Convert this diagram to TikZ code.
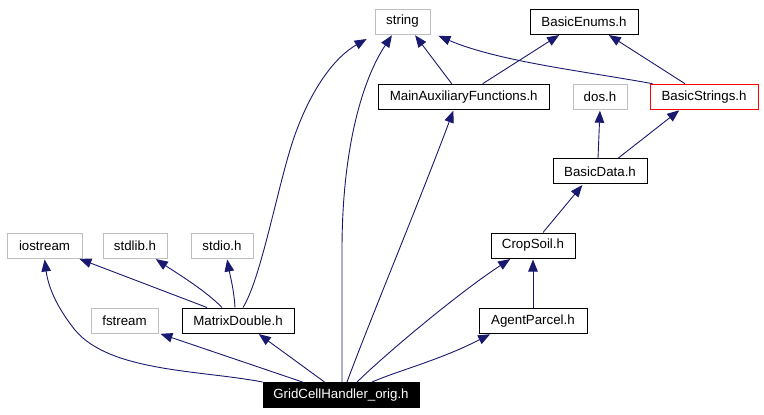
\documentclass[tikz,border=0pt]{standalone}
\usepackage{fontspec}
\setmainfont{Liberation Sans}
\usetikzlibrary{arrows.meta,calc}
\definecolor{edgeblue}{HTML}{191970}
\definecolor{sysgrey}{HTML}{BFBFBF}
\begin{document}
\begin{tikzpicture}[x=1pt,y=-1pt,
  box/.style={draw=black,line width=1pt,rectangle,inner sep=0pt,minimum height=25pt,font=\fontsize{13.3}{16}\selectfont,text=black},
  sysbox/.style={box,draw=sysgrey},
  redbox/.style={box,draw=red},
  mainbox/.style={box,fill=black,text=white},
  edge/.style={draw=edgeblue,line width=0.9pt,shorten >=1pt,-{Triangle[length=12pt,width=9.5pt,fill=edgeblue]}}]
\useasboundingbox (0,0) rectangle (764,415);
% nodes
\node[sysbox,minimum width=55pt] (string) at (402.5,21.5) {string};
\node[box,minimum width=108pt] (enums) at (584,21.5) {BasicEnums.h};
\node[box,minimum width=171pt] (mainaux) at (463.7,96.7) {MainAuxiliaryFunctions.h};
\node[sysbox,minimum width=54pt] (dos) at (600,96.7) {dos.h};
\node[redbox,minimum width=108pt] (bstrings) at (704,96.7) {BasicStrings.h};
\node[box,minimum width=94pt] (bdata) at (600,171.3) {BasicData.h};
\node[sysbox,minimum width=75pt] (iostream) at (44.5,245.5) {iostream};
\node[sysbox,minimum width=64pt] (stdlib) at (135,245.5) {stdlib.h};
\node[sysbox,minimum width=62pt] (stdio) at (222,245.5) {stdio.h};
\node[box,minimum width=84pt] (cropsoil) at (533,245.5) {CropSoil.h};
\node[sysbox,minimum width=67pt] (fstream) at (124.5,320.5) {fstream};
\node[box,minimum width=112pt] (matrix) at (238,320.5) {MatrixDouble.h};
\node[box,minimum width=108pt] (agent) at (533,320.8) {AgentParcel.h};
\node[mainbox,minimum width=156pt] (grid) at (341,395) {GridCellHandler\_orig.h};
% edges from GridCellHandler_orig.h
\draw[edge] (grid.north west) .. controls (200,370) and (110,372) .. (75,330)
  .. controls (55,305) and (48,285) .. (iostream.south);
\draw[edge] ($(grid.north west)+(40,0)$) -- ($(fstream.south east)+(1,0)$);
\draw[edge] ($(grid.north west)+(62,0)$) -- ($(matrix.south)+(20,0)$);
\draw[edge] ($(grid.north)+(1,0)$) -- (342,250) .. controls (342,150) and (362,80) .. ($(string.south)+(-10,0)$);
\draw[edge] ($(grid.north)+(6,0)$) .. controls (370,320) and (420,200) .. ($(mainaux.south)+(-10,0)$);
\draw[edge] ($(grid.north)+(16,0)$) .. controls (390,350) and (460,292) .. ($(cropsoil.south)+(-22,0)$);
\draw[edge] ($(grid.north)+(31,0)$) .. controls (400,370) and (440,360) .. ($(agent.south)+(-42,0)$);
% edges from MatrixDouble.h
\draw[edge] ($(matrix.north)+(-31,0)$) -- ($(iostream.south east)+(-4,0)$);
\draw[edge] ($(matrix.north)+(-16,0)$) .. controls (205,290) and (175,272) .. ($(stdlib.south)+(20,0)$);
\draw[edge] ($(matrix.north)+(-3,0)$) .. controls (234,290) and (230,275) .. ($(stdio.south)+(5,0)$);
\draw[edge] ($(matrix.north)+(5,0)$) .. controls (260,280) and (275,200) .. (290,150)
  .. controls (305,100) and (330,60) .. ($(string.south west)+(-7,4)$);
% upper edges
\draw[edge] ($(mainaux.north)+(-12,0)$) -- ($(string.south)+(12,0)$);
\draw[edge] ($(mainaux.north)+(19,0)$) -- ($(enums.south)+(-24,0)$);
\draw[edge] ($(bstrings.north west)+(3,0)$) .. controls (590,72) and (500,62) .. ($(string.south east)+(7,1)$);
\draw[edge] ($(bstrings.north)+(-19,0)$) -- ($(enums.south)+(24,0)$);
\draw[edge] ($(bdata.north)+(-2,0)$) -- (dos.south);
\draw[edge] ($(bdata.north)+(18,0)$) -- ($(bstrings.south)+(-24,0)$);
\draw[edge] ($(cropsoil.north)+(10,0)$) -- ($(bdata.south)+(-17,0)$);
\draw[edge] (agent.north) -- (cropsoil.south);
\end{tikzpicture}
\end{document}
